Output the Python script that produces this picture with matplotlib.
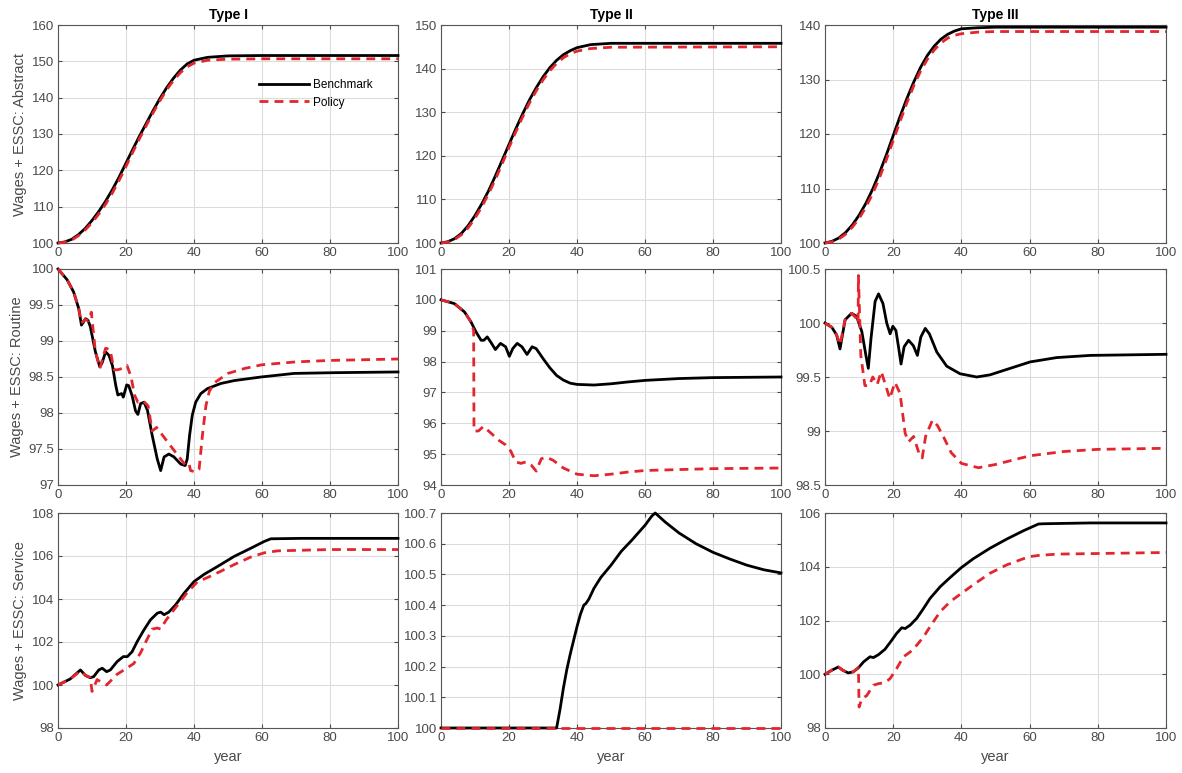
import matplotlib
matplotlib.use("Agg")
import matplotlib.pyplot as plt
from matplotlib.ticker import FormatStrFormatter

plt.rcParams['font.family'] = ['Liberation Sans', 'DejaVu Sans']

# ---- data ----
# row 1: Abstract
abs1_x = [0, 2, 4, 6, 8, 10, 12, 14, 16, 18, 20, 22, 24, 26, 28, 30, 32, 34, 36, 38, 40, 44, 50, 60, 100]
abs1_bench = [100, 100.3, 101, 102.3, 104, 106.2, 108.7, 111.5, 114.7, 118.2, 122, 125.8, 129.5, 133,
              136.5, 139.8, 142.8, 145.4, 147.6, 149.3, 150.3, 151.1, 151.5, 151.6, 151.6]
abs1_pol = [100, 100.2, 100.8, 102, 103.6, 105.6, 108, 110.7, 113.8, 117.3, 121.1, 125, 128.8, 132.4,
            135.9, 139.2, 142.2, 144.8, 146.9, 148.5, 149.5, 150.3, 150.6, 150.7, 150.7]

abs2_x = [0, 2, 4, 6, 8, 10, 12, 14, 16, 18, 20, 22, 24, 26, 28, 30, 32, 34, 36, 38, 40, 44, 50, 100]
abs2_bench = [100, 100.3, 101, 102.2, 104, 106.3, 109, 112, 115.4, 119, 122.6, 126.2, 129.6, 132.8,
              135.6, 138.1, 140.2, 141.9, 143.2, 144.1, 144.8, 145.5, 145.8, 145.8]
abs2_pol = [100, 100.2, 100.8, 101.9, 103.5, 105.7, 108.3, 111.3, 114.6, 118.2, 121.9, 125.5, 128.9,
            132.1, 134.9, 137.4, 139.5, 141.2, 142.5, 143.4, 144, 144.6, 144.9, 145]

abs3_x = [0, 2, 4, 6, 8, 10, 12, 14, 16, 18, 20, 22, 24, 26, 28, 30, 32, 34, 36, 38, 40, 45, 50, 100]
abs3_bench = [100, 100.3, 100.9, 101.9, 103.3, 105.1, 107.3, 109.9, 112.9, 116.2, 119.7, 123.2, 126.5,
              129.5, 132.2, 134.4, 136.1, 137.4, 138.3, 138.9, 139.3, 139.5, 139.6, 139.6]
abs3_pol = [100, 100.2, 100.7, 101.6, 102.9, 104.5, 106.6, 109.1, 112, 115.3, 118.8, 122.3, 125.7,
            128.8, 131.5, 133.7, 135.4, 136.7, 137.6, 138.1, 138.4, 138.7, 138.8, 138.8]

# row 2: Routine
rou1_bx = [0, 2.7, 4.6, 6.1, 6.9, 8.1, 8.8, 9.5, 11, 12.3, 13, 14, 15, 16, 17, 17.6, 18.7, 19.2, 20.2,
           20.8, 21.8, 22.8, 23.5, 24.3, 25.3, 26.3, 27.7, 29.2, 30.2, 31.2, 32.6, 34.1, 36.1, 37.4, 38,
           38.7, 39.5, 40.5, 42, 44, 47.9, 51.8, 59.7, 69.5, 81.3, 100]
rou1_bench = [100, 99.85, 99.68, 99.45, 99.22, 99.31, 99.29, 99.2, 98.85, 98.64, 98.7, 98.85, 98.8,
              98.66, 98.38, 98.25, 98.27, 98.22, 98.39, 98.38, 98.24, 98.03, 97.98, 98.13, 98.15, 98.04,
              97.69, 97.36, 97.2, 97.39, 97.43, 97.39, 97.29, 97.27, 97.36, 97.69, 97.97, 98.15, 98.27,
              98.34, 98.41, 98.45, 98.5, 98.55, 98.56, 98.57]
rou1_px = [0, 2.7, 4.6, 6.1, 6.9, 8, 9, 9.8, 11, 12.3, 14, 15.3, 16.5, 17.5, 19, 20.3, 21.5, 22.5, 23.5,
           25, 26.5, 27.7, 29, 33, 37.4, 38.5, 39, 40.5, 41.5, 42.5, 43.5, 44.5, 46, 50, 55, 60, 70, 80, 100]
rou1_pol = [100, 99.85, 99.68, 99.45, 99.25, 99.3, 99.28, 99.4, 98.85, 98.62, 98.9, 98.88, 98.6, 98.6,
            98.62, 98.66, 98.5, 98.25, 98.15, 98.17, 98.1, 97.75, 97.8, 97.55, 97.28, 97.3, 97.2, 97.18,
            97.22, 97.7, 98.1, 98.3, 98.42, 98.55, 98.62, 98.67, 98.71, 98.73, 98.75]

rou2_bx = [0, 3.9, 6.9, 8.8, 10.3, 11.8, 12.6, 13.6, 14.7, 16, 17.5, 19, 20.1, 21.1, 22.4, 23.8, 25.3,
           26.8, 28, 30, 32, 34, 36, 38, 40, 45, 50, 55, 60, 70, 80, 100]
rou2_bench = [100, 99.88, 99.61, 99.29, 98.96, 98.69, 98.69, 98.8, 98.62, 98.39, 98.59, 98.48, 98.17,
              98.42, 98.59, 98.48, 98.23, 98.48, 98.42, 98.1, 97.8, 97.55, 97.4, 97.3, 97.26, 97.24,
              97.28, 97.34, 97.39, 97.45, 97.48, 97.5]
rou2_px = [0, 4, 7, 9, 9.6, 9.7, 11, 12.5, 14.5, 17, 19, 20.5, 22, 23.5, 25, 26.5, 28, 29.5, 31, 33, 36,
           40, 45, 50, 55, 60, 70, 80, 100]
rou2_pol = [100, 99.88, 99.6, 99.25, 99.0, 95.75, 95.75, 95.9, 95.7, 95.45, 95.3, 95.1, 94.75, 94.7,
            94.75, 94.65, 94.45, 94.85, 94.9, 94.8, 94.55, 94.35, 94.3, 94.35, 94.42, 94.47, 94.5, 94.53,
            94.55]

rou3_bx = [0, 2, 3.4, 4.4, 5.9, 7.8, 9.3, 10.8, 12, 12.7, 13.5, 14.7, 15.7, 17, 18.1, 19.1, 19.9, 20.8,
           21.5, 22.3, 23.2, 24.5, 25.9, 27.1, 28.1, 29.4, 30.6, 32.8, 35.7, 39.6, 44.5, 48.4, 53.3, 60.2,
           68, 77.8, 100]
rou3_bench = [100, 99.96, 99.89, 99.76, 100.03, 100.09, 100.06, 99.92, 99.7, 99.58, 99.86, 100.2, 100.27,
              100.18, 100.0, 99.9, 99.97, 99.93, 99.79, 99.62, 99.78, 99.84, 99.79, 99.7, 99.87, 99.95,
              99.9, 99.73, 99.6, 99.53, 99.5, 99.52, 99.57, 99.64, 99.68, 99.7, 99.71]
rou3_px = [0, 2, 3.4, 4.4, 5.9, 7.8, 9, 9.7, 9.8, 10.5, 11.7, 13, 14, 15.3, 16.5, 17.5, 19, 20.5, 22,
           23.5, 24.5, 26, 27.5, 28.5, 29.5, 31.5, 33, 35, 37, 40, 45, 50, 55, 60, 70, 80, 100]
rou3_pol = [100, 99.96, 99.89, 99.8, 100.03, 100.09, 100.05, 100.0, 100.44, 99.7, 99.42, 99.42, 99.5,
            99.43, 99.55, 99.45, 99.3, 99.45, 99.35, 98.98, 98.9, 98.95, 98.8, 98.75, 98.95, 99.1, 99.05,
            98.93, 98.8, 98.7, 98.66, 98.69, 98.73, 98.77, 98.81, 98.83, 98.84]

# row 3: Service
ser1_bx = [0, 3.6, 6.6, 8.1, 9.5, 10.5, 12, 13, 14.3, 15.4, 17.4, 19.2, 20.4, 21.8, 23.3, 25.3, 27.2,
           29.2, 30.2, 31.2, 32.6, 34.6, 37.1, 40, 43, 46.9, 51.8, 56.7, 60.7, 62.6, 71.5, 100]
ser1_bench = [100, 100.28, 100.7, 100.44, 100.34, 100.39, 100.7, 100.78, 100.62, 100.7, 101.09, 101.32,
              101.32, 101.55, 102.02, 102.57, 103.03, 103.34, 103.39, 103.27, 103.39, 103.73, 104.27,
              104.81, 105.15, 105.51, 105.98, 106.36, 106.68, 106.8, 106.82, 106.82]
ser1_px = [0, 3.6, 6.6, 8.1, 9.5, 10, 11.5, 14.3, 17.4, 20.4, 22.3, 24.3, 25.8, 27.7, 29.2, 30.2, 31.7,
           34.1, 38, 41, 44, 48, 51.8, 56.7, 60.7, 64.6, 80, 100]
ser1_pol = [100, 100.28, 100.65, 100.45, 100.35, 99.7, 100.25, 100.0, 100.5, 100.8, 101.0, 101.5, 102.0,
            102.6, 102.65, 102.6, 103.0, 103.5, 104.3, 104.8, 105.0, 105.3, 105.6, 105.95, 106.15,
            106.24, 106.3, 106.3]

ser2_bx = [0, 34, 35, 36, 37, 38, 39, 40, 41, 42, 42.6, 43.5, 45, 47, 50, 53, 56, 58, 60, 62, 63, 66,
           70, 75, 80, 85, 90, 95, 100]
ser2_bench = [100, 100, 100.06, 100.13, 100.19, 100.24, 100.285, 100.33, 100.37, 100.4, 100.405, 100.42,
              100.455, 100.49, 100.53, 100.575, 100.61, 100.635, 100.66, 100.69, 100.7, 100.67, 100.635,
              100.6, 100.572, 100.55, 100.53, 100.515, 100.505]
ser2_px = [0, 100]
ser2_pol = [100, 100]

ser3_bx = [0, 2, 3.9, 5.2, 6.8, 8.3, 9.8, 11.3, 13.2, 14.2, 15.7, 17.6, 19.6, 21, 22.5, 23.5, 25, 26.9,
           28.9, 30.8, 33.8, 36.7, 40, 43.5, 48.4, 53.3, 58.2, 62.6, 64.1, 77.8, 100]
ser3_bench = [100, 100.15, 100.27, 100.15, 100.05, 100.09, 100.24, 100.46, 100.65, 100.62, 100.73,
              100.93, 101.27, 101.52, 101.73, 101.7, 101.83, 102.08, 102.45, 102.82, 103.26, 103.6,
              103.97, 104.3, 104.69, 105.03, 105.34, 105.59, 105.6, 105.63, 105.63]
ser3_px = [0, 2, 3.9, 5.2, 6.8, 8.3, 9.8, 10, 10.8, 12.2, 14.2, 15.7, 17.6, 19.1, 21, 23, 25, 26.9, 28.9,
           30.8, 33.8, 36.7, 40, 43.5, 48.4, 53.3, 58.2, 60.2, 62.6, 68, 100]
ser3_pol = [100, 100.15, 100.27, 100.15, 100.05, 100.09, 100.25, 98.78, 99.09, 99.2, 99.59, 99.65, 99.69,
            99.84, 100.21, 100.65, 100.83, 101.08, 101.39, 101.77, 102.33, 102.7, 103.01, 103.33, 103.76,
            104.07, 104.3, 104.38, 104.42, 104.47, 104.53]

col_titles = ["Type I", "Type II", "Type III"]
row_labels = ["Wages + ESSC: Abstract", "Wages + ESSC: Routine", "Wages + ESSC: Service"]

panels = [
    [(abs1_x, abs1_bench, abs1_x, abs1_pol, (100, 160), [100, 110, 120, 130, 140, 150, 160]),
     (abs2_x, abs2_bench, abs2_x, abs2_pol, (100, 150), [100, 110, 120, 130, 140, 150]),
     (abs3_x, abs3_bench, abs3_x, abs3_pol, (100, 140), [100, 110, 120, 130, 140])],
    [(rou1_bx, rou1_bench, rou1_px, rou1_pol, (97, 100), [97, 97.5, 98, 98.5, 99, 99.5, 100]),
     (rou2_bx, rou2_bench, rou2_px, rou2_pol, (94, 101), [94, 95, 96, 97, 98, 99, 100, 101]),
     (rou3_bx, rou3_bench, rou3_px, rou3_pol, (98.5, 100.5), [98.5, 99, 99.5, 100, 100.5])],
    [(ser1_bx, ser1_bench, ser1_px, ser1_pol, (98, 108), [98, 100, 102, 104, 106, 108]),
     (ser2_bx, ser2_bench, ser2_px, ser2_pol, (100, 100.7), [100, 100.1, 100.2, 100.3, 100.4, 100.5, 100.6, 100.7]),
     (ser3_bx, ser3_bench, ser3_px, ser3_pol, (98, 106), [98, 100, 102, 104, 106])],
]

# axes placement in pixels (left, right) and (top, bottom)
W, H = 1182, 773
col_px = [(58, 398), (441, 781), (825, 1166)]
row_px = [(25, 243), (269, 485), (513, 728)]

red = '#e3262d'
fig = plt.figure(figsize=(W / 100, H / 100), dpi=100)

for r in range(3):
    for c in range(3):
        bx, by, px, py, ylim, yt = panels[r][c]
        l, rr = col_px[c]
        t, b = row_px[r]
        ax = fig.add_axes([l / W, 1 - b / H, (rr - l) / W, (b - t) / H])
        ax.plot(bx, by, color='black', lw=2.0, label='Benchmark', zorder=3, clip_on=False)
        ax.plot(px, py, color=red, lw=2.0, ls=(0, (3.2, 2.2)), label='Policy', zorder=4, clip_on=False)
        ax.set_xlim(0, 100)
        ax.set_ylim(*ylim)
        ax.set_xticks([0, 20, 40, 60, 80, 100])
        ax.set_yticks(yt)
        ax.yaxis.set_major_formatter(FormatStrFormatter('%g'))
        ax.grid(True, color='#dcdcdc', lw=0.8)
        ax.set_axisbelow(True)
        ax.tick_params(direction='in', length=3, labelsize=9.5, colors='#4a4a4a', pad=3,
                       top=True, right=True)
        for s in ax.spines.values():
            s.set_color('#555555')
            s.set_linewidth(0.8)
        if r == 0:
            ax.set_title(col_titles[c], fontsize=10, fontweight='bold', pad=4)
        if c == 0:
            ax.set_ylabel(row_labels[r], fontsize=10.5, color='#4a4a4a', labelpad=3)
        if r == 2:
            ax.set_xlabel("year", fontsize=10.5, color='#4a4a4a', labelpad=4)
        if r == 0 and c == 0:
            ax.legend(loc='upper left', bbox_to_anchor=(0.56, 0.80), frameon=False, fontsize=8.5,
                      handlelength=4.2, handletextpad=0.4, labelspacing=0.45)

fig.savefig("out.png", dpi=100)
